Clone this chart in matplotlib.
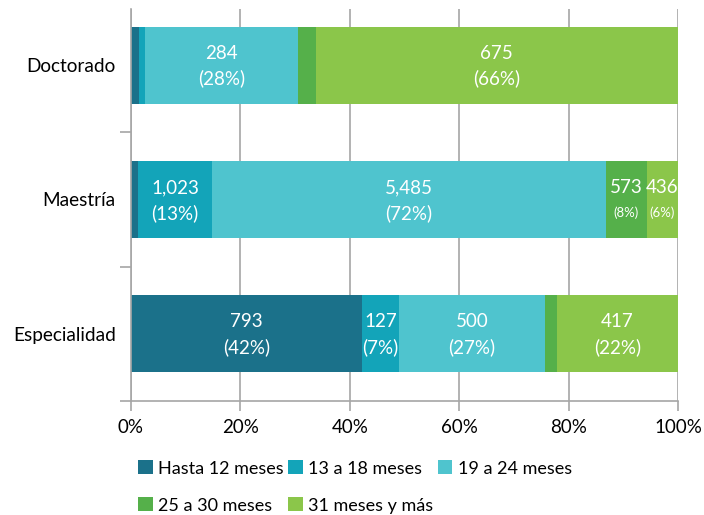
import numpy as np
import matplotlib.pyplot as plt
from matplotlib.patches import Patch
from matplotlib.ticker import FixedLocator

plt.rcParams['font.family'] = ['Lato', 'DejaVu Sans']

categorias = ["Especialidad", "Maestría", "Doctorado"]
series = ["Hasta 12 meses", "13 a 18 meses", "19 a 24 meses",
          "25 a 30 meses", "31 meses y más"]
colores = ["#1b718a", "#13a4b9", "#4fc4ce", "#55b04a", "#8bc64a"]

# valores por serie (Especialidad, Maestría, Doctorado)
hasta_12 = [793, 103, 15]
de_13_18 = [127, 1023, 12]
de_19_24 = [500, 5485, 284]
de_25_30 = [41, 573, 33]
mas_31 = [417, 436, 675]

# etiquetas con porcentaje en letra chica (categoria, serie)
pct_chico = [(1, 3), (1, 4)]

datos = np.array([hasta_12, de_13_18, de_19_24, de_25_30, mas_31], dtype=float)
totales = datos.sum(axis=0)
pct = datos / totales * 100

fig = plt.figure(figsize=(7.04, 5.15), dpi=100)
ax = fig.add_axes([131/704, 1-401/515, 547/704, 392/515])

y = np.arange(len(categorias))
izq = np.zeros(len(categorias))
for i in range(len(series)):
    ax.barh(y, pct[i], left=izq, height=0.575, color=colores[i], zorder=2)
    for j in range(len(categorias)):
        if pct[i][j] > 5:
            xc = izq[j] + pct[i][j] / 2
            ax.text(xc, y[j] + 0.09, "{:,}".format(int(datos[i][j])),
                    color="white", ha="center", va="center", fontsize=13.5, zorder=3)
            fs = 9.5 if (j, i) in pct_chico else 13.5
            ax.text(xc, y[j] - 0.1, "({:.0f}%)".format(pct[i][j]),
                    color="white", ha="center", va="center", fontsize=fs, zorder=3)
    izq = izq + pct[i]

gris = "#a6a6a6"
ax.set_xlim(0, 100)
ax.set_ylim(-0.5, 2.418)
ax.set_xticks(np.arange(0, 101, 20))
ax.set_xticklabels(["{}%".format(v) for v in range(0, 101, 20)], fontsize=13.5)
ax.set_yticks(y)
ax.set_yticklabels(categorias, fontsize=13.7)
ax.yaxis.set_minor_locator(FixedLocator([-0.5, 0.5, 1.5]))
ax.tick_params(axis="y", which="major", length=0, pad=11)
ax.tick_params(axis="y", which="minor", length=8, color=gris, width=1.2)
ax.tick_params(axis="x", length=7, color=gris, width=1.2, pad=6)
ax.grid(axis="x", color=gris, linewidth=1.2, zorder=0)
ax.set_axisbelow(True)
for s in ["top", "right"]:
    ax.spines[s].set_visible(False)
for s in ["left", "bottom"]:
    ax.spines[s].set_color(gris)
    ax.spines[s].set_linewidth(1.2)

# orden para que la leyenda se llene por filas
orden = [0, 3, 1, 4, 2]
handles = [Patch(facecolor=colores[k], label=series[k]) for k in orden]
fig.legend(handles=handles, ncol=3, frameon=False, fontsize=13,
           loc="upper left", bbox_to_anchor=(124/704, 1-446/515),
           handlelength=0.8, handleheight=0.8, handletextpad=0.3,
           columnspacing=0.25, labelspacing=1.15, borderpad=0.3)

fig.savefig("out.png", dpi=100)
